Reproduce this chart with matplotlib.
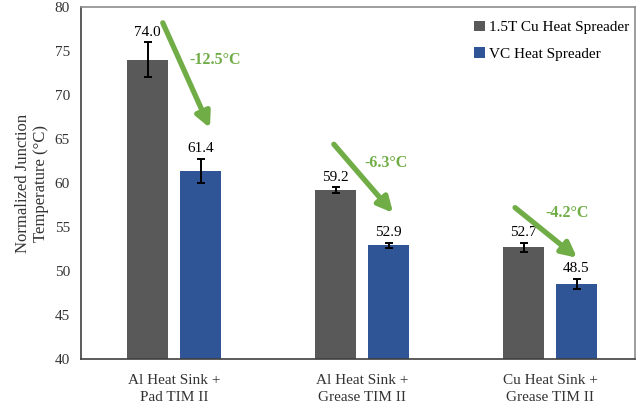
import numpy as np
import matplotlib.pyplot as plt

plt.rcParams["font.family"] = ["Liberation Serif", "DejaVu Serif"]

# ─────────────────────────────────────────────
# Data
# ─────────────────────────────────────────────
groups = ["Al Heat Sink +\nPad TIM II",
          "Al Heat Sink +\nGrease TIM II",
          "Cu Heat Sink +\nGrease TIM II"]
cu_temp = [74.0, 59.2, 52.7]
cu_err = [2.0, 0.3, 0.5]
vc_temp = [61.4, 52.9, 48.5]
vc_err = [1.35, 0.3, 0.6]
drops = [-12.5, -6.3, -4.2]
series_names = ["1.5T Cu Heat Spreader", "VC Heat Spreader"]

GRAY = "#595959"
BLUE = "#2F5597"
GREEN = "#70AD47"

x = np.arange(len(groups))
width = 0.218
offset = 0.141

fig = plt.figure(figsize=(6.44, 4.07), dpi=100)
ax = fig.add_axes([81 / 644, 1 - 359 / 407, 554 / 644, 352 / 407])

err_kw = dict(ecolor="black", elinewidth=1.4, capsize=3, capthick=1.4)
ax.bar(x - offset, cu_temp, width, yerr=cu_err, color=GRAY,
       label=series_names[0], error_kw=err_kw, zorder=2)
ax.bar(x + offset, vc_temp, width, yerr=vc_err, color=BLUE,
       label=series_names[1], error_kw=err_kw, zorder=2)

# value labels above the error bars
for xi, v, e in zip(x - offset, cu_temp, cu_err):
    ax.text(xi, v + e + 0.4, f"{v:.1f}", ha="center", va="bottom", fontsize=11)
for xi, v, e in zip(x + offset, vc_temp, vc_err):
    ax.text(xi, v + e + 0.4, f"{v:.1f}", ha="center", va="bottom", fontsize=11)

# temperature drop arrows: tail above the Cu bar, head above the VC bar
tail_dx = [-0.06, -0.15, -0.186]
tail_dy = [4.2, 5.2, 4.5]
head_dx = [0.191, 0.165, 0.144]
head_dy = [4.85, 3.7, 3.0]
lbl_dx = [0.218, 0.128, 0.09]
lbl_y = [74.0, 62.3, 56.6]
for i in range(len(groups)):
    ax.annotate("", xy=(i + head_dx[i], vc_temp[i] + head_dy[i]),
                xytext=(i + tail_dx[i], cu_temp[i] + tail_dy[i]),
                arrowprops=dict(arrowstyle="-|>,head_length=0.9,head_width=0.45",
                                color=GREEN, lw=3.8, shrinkA=0, shrinkB=0),
                zorder=3)
    ax.text(i + lbl_dx[i], lbl_y[i], f"{drops[i]:.1f}°C", color=GREEN,
            fontweight="bold", fontsize=11.5, ha="center", va="center")

ax.set_xlim(-0.495, 2.452)
ax.set_ylim(40, 80)
ax.set_yticks(np.arange(40, 81, 5))
ax.set_xticks(x)
ax.set_xticklabels(groups, fontsize=11, linespacing=1.4)
ax.tick_params(axis="both", length=0, labelsize=11, colors="#333333")
ax.tick_params(axis="x", pad=11)
ax.tick_params(axis="y", pad=8)
ax.set_ylabel("Normalized Junction\nTemperature (°C)", fontsize=12,
              color="#333333", labelpad=4)

for side in ["top", "right"]:
    ax.spines[side].set_color("#8c8c8c")
    ax.spines[side].set_linewidth(1.2)
for side in ["left", "bottom"]:
    ax.spines[side].set_color("#404040")
    ax.spines[side].set_linewidth(1.2)

ax.legend(loc="upper right", frameon=False, fontsize=11,
          handlelength=0.7, handleheight=0.7, handletextpad=0.3,
          labelspacing=0.85, bbox_to_anchor=(1.015, 1.0))

fig.savefig("out.png", dpi=100)
